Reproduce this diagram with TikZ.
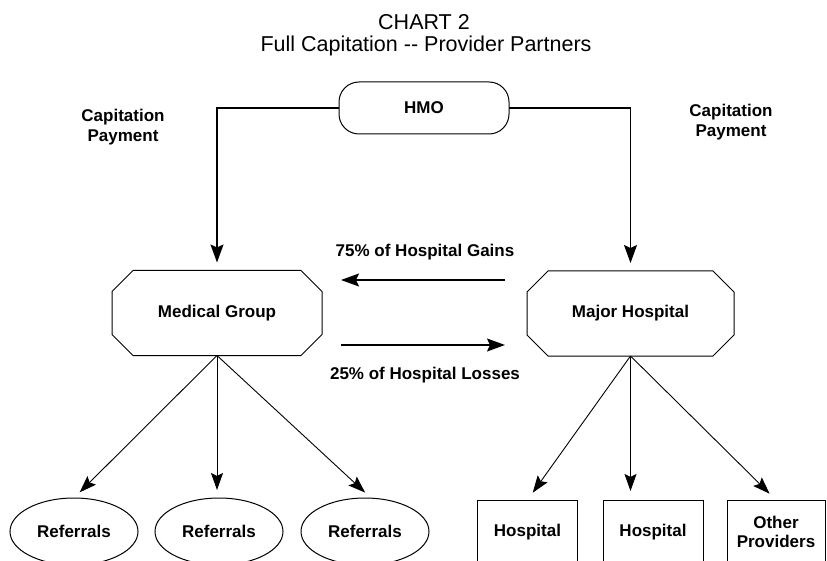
\documentclass[tikz,border=0pt]{standalone}
\usepackage{fontspec}
\setmainfont{Liberation Sans}
\usetikzlibrary{arrows.meta,shapes.geometric}

% chamfered outline drawn round a named rectangular node
\newcommand\octframe[1]{%
  \draw[frame]
    ([xshift=21pt]#1.north west) -- ([xshift=-21pt]#1.north east)
    -- ([yshift=-21pt]#1.north east) -- ([yshift=21pt]#1.south east)
    -- ([xshift=-21pt]#1.south east) -- ([xshift=21pt]#1.south west)
    -- ([yshift=21pt]#1.south west) -- ([yshift=-21pt]#1.north west) -- cycle;}

\begin{document}
\begin{tikzpicture}[x=1pt,y=-1pt,
  lbl/.style={font=\fontsize{17}{19.5}\selectfont\bfseries, align=center, inner sep=0pt},
  ttl/.style={font=\fontsize{21.5}{24}\selectfont, inner sep=0pt},
  frame/.style={draw=black, line width=1pt},
  hmobox/.style={frame, rounded corners=20pt, minimum width=170pt, minimum height=52pt, outer sep=0pt, lbl},
  octnode/.style={minimum width=210pt, minimum height=85pt, outer sep=0pt, lbl},
  refbox/.style={frame, ellipse, minimum width=128pt, minimum height=67pt, outer sep=0pt, lbl},
  provbox/.style={frame, rectangle, minimum width=100pt, minimum height=64pt, outer sep=0pt, lbl},
  arr/.style={line width=1.4pt, -{Stealth[length=18pt, width=13pt, inset=3pt]}},
  thin arr/.style={line width=0.9pt, -{Stealth[length=17pt, width=12pt, inset=3pt]}}
]
\useasboundingbox (0,0) rectangle (827,561);
\clip (0,0) rectangle (827,561);
\fill[white] (0,0) rectangle (827,561);

% heading
\node[ttl] (title) at (424,22) {CHART 2};
\node[ttl] (subtitle) at (426,46) {Full Capitation -{}- Provider Partners};

% payer
\node[hmobox] (hmo) at (424,108) {HMO};

% provider partners
\node[octnode] (medgrp) at (217,313) {Medical Group};
\octframe{medgrp}
\node[octnode, minimum width=207pt] (majhosp) at (630.5,313.5) {Major Hospital};
\octframe{majhosp}

% capitation flows
\node[lbl] (capL) at (123,127) {Capitation\\Payment};
\node[lbl] (capR) at (731,122) {Capitation\\Payment};
\draw[arr, shorten >=8pt] (hmo.west) -| (medgrp.north);
\draw[arr, shorten >=8pt] (hmo.east) -| (majhosp.north);

% risk sharing between partners
\coordinate (gainS) at (505,280);
\coordinate (gainE) at (341,280);
\draw[arr] (gainS) -- (gainE);
\node[lbl] (gains) at (425,252) {75\% of Hospital Gains};
\coordinate (lossS) at (341,345);
\coordinate (lossE) at (505,345);
\draw[arr] (lossS) -- (lossE);
\node[lbl] (losses) at (425,375) {25\% of Hospital Losses};

% referrals
\node[refbox] (ref1) at (74,531.5) {Referrals};
\node[refbox] (ref2) at (219,531.5) {Referrals};
\node[refbox] (ref3) at (365,531.5) {Referrals};
\draw[thin arr, shorten >=8pt] (medgrp.south) -- (ref1.north);
\draw[thin arr, shorten >=8pt] (medgrp.south) -- (medgrp.south |- ref2.north);
\draw[thin arr, shorten >=8pt] (medgrp.south) -- ([xshift=6pt]ref3.north);

% hospital network
\node[provbox] (hosp1) at (527.5,532) {Hospital};
\node[provbox] (hosp2) at (653,532) {Hospital};
\node[provbox, minimum width=98pt] (other) at (776,532) {Other\\Providers};
\draw[thin arr, shorten >=9pt] (majhosp.south) -- (hosp1.north);
\draw[thin arr, shorten >=9pt] (majhosp.south) -- (majhosp.south |- hosp2.north);
\draw[thin arr, shorten >=9pt] (majhosp.south) -- (other.north);
\end{tikzpicture}
\end{document}
